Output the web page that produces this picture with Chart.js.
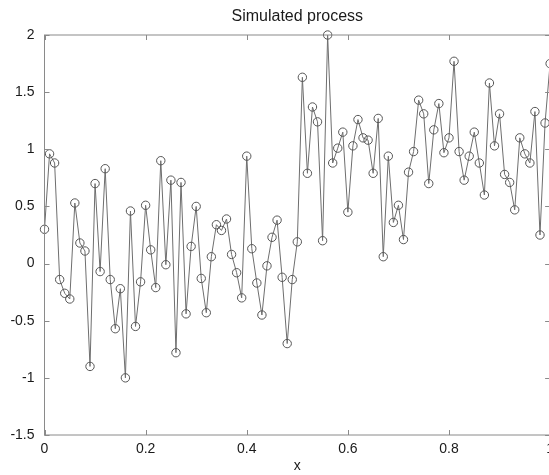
<!DOCTYPE html>
<html>
<head>
<meta charset="utf-8">
<script src="https://cdn.jsdelivr.net/npm/chart.js@4.4.1/dist/chart.umd.min.js"></script>
<style>
  html, body { margin: 0; padding: 0; overflow: hidden; background: #fff; }
  #process-chart { display: block; }
</style>
</head>
<body>
<canvas id="process-chart" width="560" height="475"></canvas>
<script>
// sample positions along x
const xValues = [
  0.00, 0.01, 0.02, 0.03, 0.04, 0.05, 0.06, 0.07, 0.08, 0.09,
  0.10, 0.11, 0.12, 0.13, 0.14, 0.15, 0.16, 0.17, 0.18, 0.19,
  0.20, 0.21, 0.22, 0.23, 0.24, 0.25, 0.26, 0.27, 0.28, 0.29,
  0.30, 0.31, 0.32, 0.33, 0.34, 0.35, 0.36, 0.37, 0.38, 0.39,
  0.40, 0.41, 0.42, 0.43, 0.44, 0.45, 0.46, 0.47, 0.48, 0.49,
  0.50, 0.51, 0.52, 0.53, 0.54, 0.55, 0.56, 0.57, 0.58, 0.59,
  0.60, 0.61, 0.62, 0.63, 0.64, 0.65, 0.66, 0.67, 0.68, 0.69,
  0.70, 0.71, 0.72, 0.73, 0.74, 0.75, 0.76, 0.77, 0.78, 0.79,
  0.80, 0.81, 0.82, 0.83, 0.84, 0.85, 0.86, 0.87, 0.88, 0.89,
  0.90, 0.91, 0.92, 0.93, 0.94, 0.95, 0.96, 0.97, 0.98, 0.99,
  1.00
];

// simulated process values
const processValues = [
  0.30, 0.96, 0.88, -0.14, -0.26, -0.31, 0.53, 0.18, 0.11, -0.90,
  0.70, -0.07, 0.83, -0.14, -0.57, -0.22, -1.00, 0.46, -0.55, -0.16,
  0.51, 0.12, -0.21, 0.90, -0.01, 0.73, -0.78, 0.71, -0.44, 0.15,
  0.50, -0.13, -0.43, 0.06, 0.34, 0.29, 0.39, 0.08, -0.08, -0.30,
  0.94, 0.13, -0.17, -0.45, -0.02, 0.23, 0.38, -0.12, -0.70, -0.14,
  0.19, 1.63, 0.79, 1.37, 1.24, 0.20, 2.00, 0.88, 1.01, 1.15,
  0.45, 1.03, 1.26, 1.10, 1.08, 0.79, 1.27, 0.06, 0.94, 0.36,
  0.51, 0.21, 0.80, 0.98, 1.43, 1.31, 0.70, 1.17, 1.40, 0.97,
  1.10, 1.77, 0.98, 0.73, 0.94, 1.15, 0.88, 0.60, 1.58, 1.03,
  1.31, 0.78, 0.71, 0.47, 1.10, 0.96, 0.88, 1.33, 0.25, 1.23,
  1.75
];

const xTicks = [0, 0.2, 0.4, 0.6, 0.8, 1];
const yTicks = [-1.5, -1, -0.5, 0, 0.5, 1, 1.5, 2];

const axisColor = '#8a8a8a';
const textColor = '#1a1a1a';

// matlab style box with inward tick marks
const boxTicks = {
  id: 'boxTicks',
  afterDatasetsDraw(chart) {
    const { ctx, chartArea: a, scales } = chart;
    ctx.save();
    ctx.strokeStyle = axisColor;
    ctx.lineWidth = 1;
    ctx.strokeRect(a.left, a.top, a.right - a.left, a.bottom - a.top);
    ctx.beginPath();
    xTicks.forEach(function (v) {
      const px = Math.round(scales.x.getPixelForValue(v)) + 0.5;
      ctx.moveTo(px, a.bottom); ctx.lineTo(px, a.bottom - 5);
      ctx.moveTo(px, a.top); ctx.lineTo(px, a.top + 5);
    });
    yTicks.forEach(function (v) {
      const py = Math.round(scales.y.getPixelForValue(v)) + 0.5;
      ctx.moveTo(a.left, py); ctx.lineTo(a.left + 5, py);
      ctx.moveTo(a.right, py); ctx.lineTo(a.right - 5, py);
    });
    ctx.stroke();
    ctx.restore();
  }
};

const ctx = document.getElementById('process-chart').getContext('2d');
new Chart(ctx, {
  type: 'line',
  data: {
    datasets: [{
      data: xValues.map((x, i) => ({ x: x, y: processValues[i] })),
      borderColor: '#6e6e6e',
      borderWidth: 1,
      pointRadius: 4.2,
      pointBorderColor: '#555',
      pointBackgroundColor: 'rgba(0,0,0,0)',
      pointBorderWidth: 1,
      tension: 0,
      clip: false
    }]
  },
  options: {
    responsive: false,
    animation: false,
    layout: { padding: { left: 0, right: 9.5, top: 0, bottom: 0 } },
    plugins: {
      legend: { display: false },
      tooltip: { enabled: false },
      title: {
        display: true,
        fullSize: false,
        text: 'Simulated process',
        color: textColor,
        font: { family: 'Liberation Sans, Arial, sans-serif', size: 16, weight: 'normal' },
        padding: { top: 6.9, bottom: 8.9 }
      }
    },
    scales: {
      x: {
        type: 'linear',
        min: 0,
        max: 1,
        grid: { display: false, drawTicks: false },
        border: { display: false },
        afterBuildTicks: function (scale) {
          scale.ticks = xTicks.map(v => ({ value: v }));
        },
        afterFit: function (scale) { scale.height = 40; },
        ticks: {
          color: textColor,
          padding: 6,
          maxRotation: 0,
          callback: v => String(v),
          font: { family: 'Liberation Sans, Arial, sans-serif', size: 14 }
        },
        title: {
          display: true,
          text: 'x',
          color: textColor,
          padding: { top: 0, bottom: 0 },
          font: { family: 'Liberation Sans, Arial, sans-serif', size: 14 }
        }
      },
      y: {
        type: 'linear',
        min: -1.5,
        max: 2,
        grid: { display: false, drawTicks: false },
        border: { display: false },
        afterBuildTicks: function (scale) {
          scale.ticks = yTicks.map(v => ({ value: v }));
        },
        afterFit: function (scale) { scale.width = 44.5; },
        ticks: {
          color: textColor,
          padding: 10,
          callback: v => String(v),
          font: { family: 'Liberation Sans, Arial, sans-serif', size: 14 }
        }
      }
    }
  },
  plugins: [boxTicks]
});
</script>
</body>
</html>
